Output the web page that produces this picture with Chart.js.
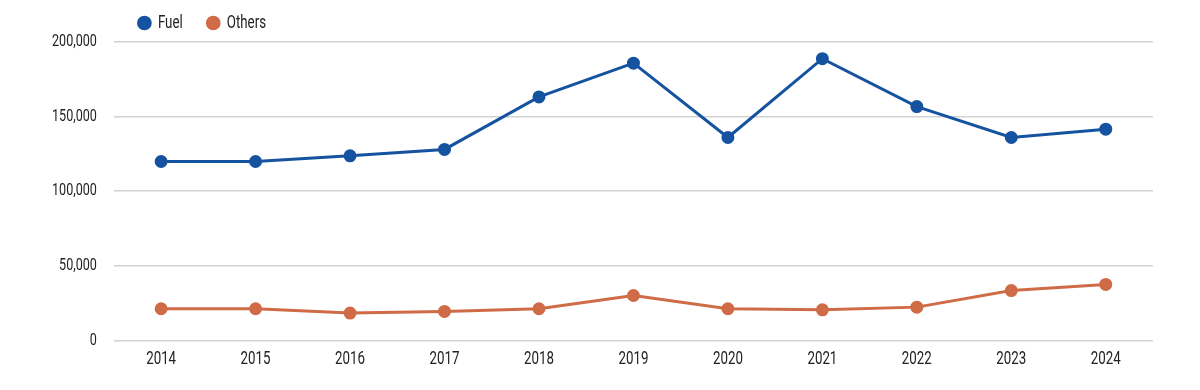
<!DOCTYPE html>
<html>
<head>
<meta charset="utf-8">
<script src="https://cdn.jsdelivr.net/npm/chart.js@4/dist/chart.umd.min.js"></script>
<style>
  html, body { margin: 0; padding: 0; background: #fff; }
  #wrap { width: 1200px; height: 390px; }
</style>
</head>
<body>
<div id="wrap"><canvas id="mychart"></canvas></div>
<script>
//. data
var years = [ '2014', '2015', '2016', '2017', '2018', '2019', '2020', '2021', '2022', '2023', '2024' ];
var fuel = [ 119900, 119900, 123700, 128000, 163200, 185800, 136000, 188800, 156700, 136000, 141600 ];
var others = [ 21200, 21200, 18300, 19400, 21200, 30100, 21200, 20500, 22300, 33400, 37500 ];
var yticks = [ 0, 50000, 100000, 150000, 200000 ];

var FONT = 'Roboto, "Noto Sans", sans-serif';
var NARROW = 0.74;  //. no condensed font installed, so squeeze text horizontally
var blue = '#1553a1';
var orange = '#cf6b46';

Chart.defaults.font.family = FONT;
Chart.defaults.color = '#222';

var canvas = document.getElementById( 'mychart' );
var c2d = canvas.getContext( '2d' );
var _measure = c2d.measureText;
var _fill = c2d.fillText;
c2d.measureText = function( t ){
  var m = _measure.call( this, t );
  return { width: m.width * NARROW, actualBoundingBoxAscent: m.actualBoundingBoxAscent, actualBoundingBoxDescent: m.actualBoundingBoxDescent };
};
c2d.fillText = function( t, x, y, mw ){
  var w = _measure.call( this, t ).width * NARROW;
  if( typeof mw == 'number' ){ w = Math.min( w, mw ); }
  _fill.call( this, t, x, y, w );
};

var chart = new Chart( canvas, {
  type: 'line',
  data: {
    labels: years,
    datasets: [
      {
        label: 'Fuel',
        data: fuel,
        borderColor: blue,
        backgroundColor: blue,
        borderWidth: 3,
        pointRadius: 5.5,
        pointBorderWidth: 2,
        pointHoverRadius: 5.5,
        tension: 0
      },
      {
        label: 'Others',
        data: others,
        borderColor: orange,
        backgroundColor: orange,
        borderWidth: 3,
        pointRadius: 5.5,
        pointBorderWidth: 2,
        pointHoverRadius: 5.5,
        tension: 0
      }
    ]
  },
  options: {
    responsive: true,
    maintainAspectRatio: false,
    animation: false,
    layout: {
      padding: { left: 35, right: 47, top: -12, bottom: 12 }
    },
    plugins: {
      tooltip: { enabled: false },
      legend: {
        position: 'top',
        align: 'start',
        fullSize: false,
        labels: {
          usePointStyle: true,
          pointStyle: 'circle',
          boxWidth: 9,
          boxHeight: 9,
          padding: 26,
          font: { size: 18 },
          color: '#222'
        }
      }
    },
    scales: {
      x: {
        offset: true,
        grid: { display: false, drawTicks: false },
        border: { display: false },
        ticks: {
          padding: 8,
          font: { size: 18 },
          color: '#222'
        }
      },
      y: {
        min: 0,
        max: 200000,
        afterBuildTicks: function( axis ){
          axis.ticks = yticks.map( function( v ){ return { value: v }; } );
        },
        grid: {
          color: '#d2d2d2',
          lineWidth: 1.5,
          drawTicks: false
        },
        border: { display: false },
        ticks: {
          padding: 17,
          font: { size: 17 },
          color: '#222',
          callback: function( v ){
            return v.toLocaleString( 'en-US' );
          }
        }
      }
    }
  }
});
</script>
</body>
</html>
